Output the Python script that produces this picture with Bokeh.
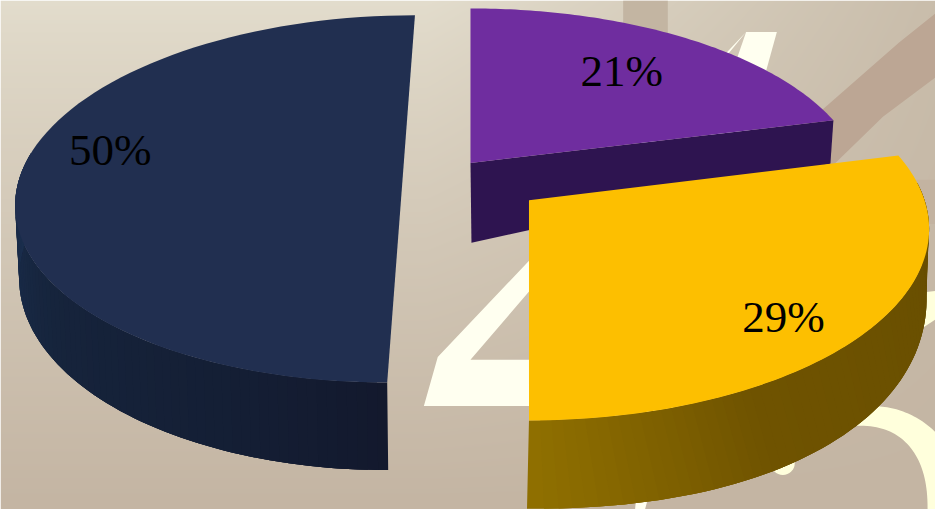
import numpy as np
from bokeh.plotting import figure
from bokeh.models import Range1d
from bokeh.core.properties import value
from bokeh.embed import file_html
from bokeh.resources import INLINE

# ---- chart data ----
categories = ["purple", "gold", "navy"]
shares = [21, 29, 50]
top_colors = ["#6f2d9f", "#fdbf00", "#212f50"]
label_texts = [f"{v}%" for v in shares]

W, H = 943, 517
def Y(py):
    return H - np.asarray(py, dtype=float)

p = figure(width=935, height=509, output_backend="svg", toolbar_location=None,
           x_range=Range1d(0, W), y_range=Range1d(0, H),
           min_border=0, outline_line_color=None)
p.axis.visible = False
p.grid.visible = False

# background gradient
def hex2(c):
    return np.array([int(c[i:i + 2], 16) for i in (1, 3, 5)], dtype=float)
xs_px = np.arange(0, W)
ys_px = np.arange(H, 0, -1)
tx = np.interp(xs_px, [0, 430, 620, 943], [0, 0, 0.37, 1.0])[None, :, None]
top_row = hex2("#e3ddcd") * (1 - tx) + hex2("#c9bdab") * tx
bottom_row = hex2("#c4b5a3")
fy = (ys_px / float(H))[:, None, None] ** 0.85
rgb = top_row * (1 - fy) + bottom_row * fy
img = np.dstack([rgb.astype(np.uint8), np.full(rgb.shape[:2], 255, dtype=np.uint8)])
packed = img.view(dtype=np.uint32).reshape(img.shape[:2])
p.image_rgba(image=[packed], x=0, y=0, dw=W, dh=H)

def poly(pts, color):
    a = np.array(pts, dtype=float)
    p.patch(a[:, 0], Y(a[:, 1]), fill_color=color, line_color=None)

# decorative backdrop
TAN = "#bca694"
CREAM = "#fffff0"
RING = "#ffffdc"
poly([(628, 0), (673, 0), (673, 60), (628, 60)], "#c3b5a2")
poly([(943, 13), (906, 43), (830, 110), (815, 125), (830, 175), (840, 167), (890, 118), (943, 78)], TAN)
poly([(915, 182), (943, 182), (943, 227), (915, 227)], "#c3b3a1")
poly([(752, 32), (441, 362), (427, 412), (640, 412), (640, 365), (474, 365), (640, 170)], CREAM)
poly([(752, 32), (783, 32), (650, 517), (640, 517), (660, 300)], CREAM)
poly([(925, 297), (943, 295), (943, 324), (925, 336)], RING)
a_out = np.linspace(0, np.arcsin(63 / 95), 30)
a_in = np.linspace(np.pi / 2, 0, 40)
ring_x = np.r_[860, 880 + 95 * np.sin(a_out), 943, 866 + 69 * np.sin(a_in) ** 0.85, 860]
ring_y = np.r_[412, 517 - 105 * np.cos(a_out), 517, 517 - 85 * np.cos(a_in) ** 0.85, 432]
p.patch(ring_x, Y(ring_y), fill_color=RING, line_color=None)
p.ellipse(x=[789], y=Y([470]), width=24, height=24, fill_color=RING, line_color=None)

# slice angles, clockwise from 12 o'clock
frac = np.cumsum([0] + shares) / np.sum(shares) * 2 * np.pi
def arc_t(i, n=90):
    return np.linspace(frac[i], frac[i + 1], n)

def proj(t, c, ux, v, k=0.0, e=1.0):
    """Point of a perspective-tilted circle; c is screen centre."""
    X = np.sign(np.sin(t)) * np.abs(np.sin(t)) ** e
    Yc = np.sign(np.cos(t)) * np.abs(np.cos(t)) ** e
    d = 1 + k * Yc
    return c[0] + (ux * X + v[0] * Yc) / d, c[1] + v[1] * Yc / d

def strips(t, top, bot, colors):
    # later strips overlap earlier ones so no seams show between them
    xt, yt = proj(t, **top)
    xb, yb = proj(t, **bot)
    xx, yy = [], []
    m = len(t)
    for j in range(m - 1):
        e = min(j + 3, m - 1)
        xx.append(np.r_[xt[j:e + 1], xb[j:e + 1][::-1]])
        yy.append(Y(np.r_[yt[j:e + 1], yb[j:e + 1][::-1]]))
    p.patches(xx, yy, fill_color=colors, line_color=None)

def ramp(n, stops):
    pos = np.linspace(0, 1, n)
    cols = []
    locs = [s[0] for s in stops]
    arr = np.array([hex2(s[1]) for s in stops])
    for q in pos:
        c = [np.interp(q, locs, arr[:, m]) for m in range(3)]
        cols.append("#%02x%02x%02x" % tuple(int(round(v)) for v in c))
    return cols

def face(i, top, color):
    t = arc_t(i)
    x, y = proj(t, **top)
    p.patch(np.r_[top["c"][0], x], Y(np.r_[top["c"][1], y]),
            fill_color=color, line_color=None)

# purple slice (index 0)
P_TOP = dict(c=(474.0, 165.0), ux=392.0, v=(0.0, -180.5), k=0.15)
end_x, end_y = proj(np.array([frac[1]]), **P_TOP)
poly([(474, 165), (end_x[0], end_y[0]), (end_x[0] - 3, end_y[0] + 44), (475, 246)], "#2e1450")
face(0, P_TOP, top_colors[0])

# navy slice (index 2)
N_TOP = dict(c=(404.0, 201.5), ux=389.0, v=(14.0, -186.5))
N_BOT = dict(c=(404.0, 275.0), ux=385.0, v=(13.0, -202.0))
tn = np.linspace(np.pi, np.pi * 1.58, 70)
strips(tn, N_TOP, N_BOT, ramp(69, [(0, "#13192d"), (0.2, "#141e34"), (0.6, "#16243c"), (1, "#1b3050")]))
face(2, N_TOP, top_colors[2])

# gold slice (index 1)
G_TOP = dict(c=(533.0, 203.0), ux=399.0, v=(0.0, -190.0), k=0.15)
G_BOT = dict(c=(531.0, 240.0), ux=391.0, v=(0.0, -221.0), k=0.2, e=0.9)
tg = np.linspace(np.pi, np.pi * 0.47, 70)
strips(tg, G_TOP, G_BOT, ramp(69, [(0, "#8f6f00"), (0.3, "#6f5300"), (1, "#664d00")]))
face(1, G_TOP, top_colors[1])

# labels
label_x = [585, 748, 69]
label_y = [72, 321, 152]
p.text(x=label_x, y=Y(label_y), text=label_texts, text_font=value("Liberation Serif"),
       text_font_size="45px", text_color="#000000", text_align="left",
       text_baseline="alphabetic")

open("out.html", "w").write(file_html(p, INLINE))
